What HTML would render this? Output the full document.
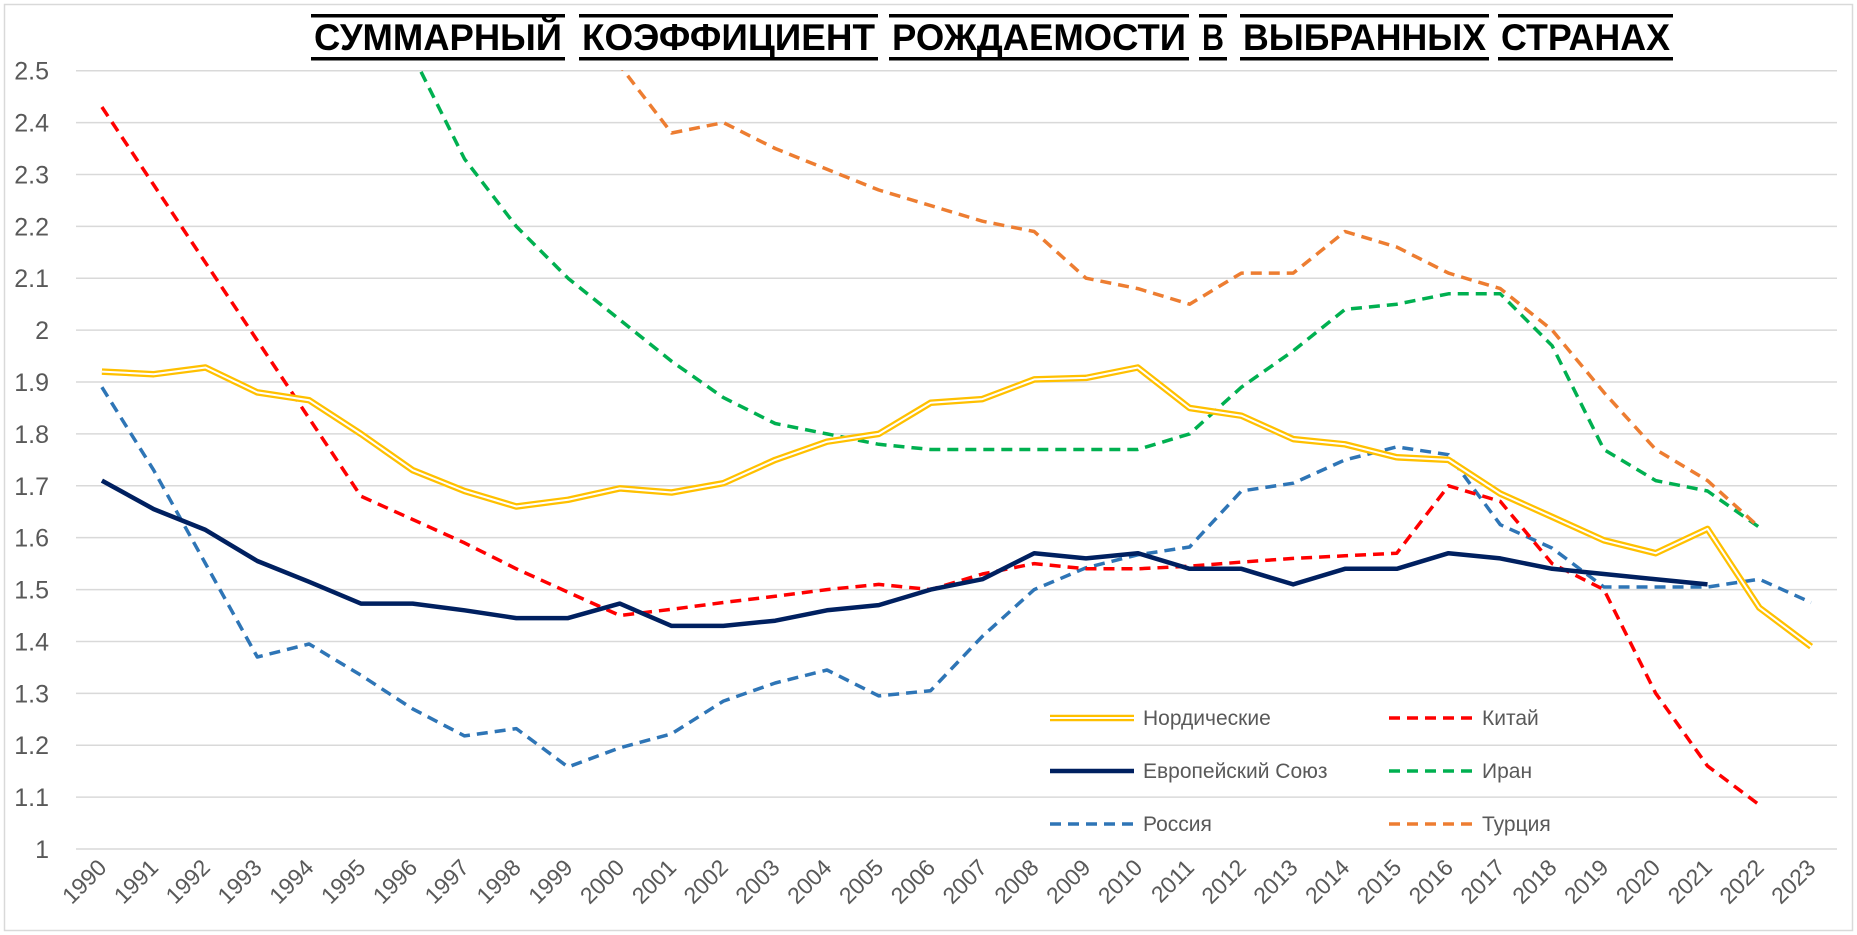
<!DOCTYPE html>
<html><head><meta charset="utf-8"><style>
html,body{margin:0;padding:0;background:#fff;}
svg{display:block;}
</style></head><body>
<svg id="c" width="1857" height="935" xmlns="http://www.w3.org/2000/svg" font-family="Liberation Sans, sans-serif">
<rect x="4.5" y="4.5" width="1848" height="926" fill="#fff" stroke="#d9d9d9" stroke-width="1.5"/>
<g id="grid"></g>
<g id="title" font-family="Liberation Sans Narrow, Liberation Sans, sans-serif" font-weight="bold" font-size="37" fill="#000"></g>
<clipPath id="cp"><rect x="76" y="70" width="1762" height="800"/></clipPath>
<g id="series" clip-path="url(#cp)" fill="none" stroke-linejoin="round"></g>
<g id="legend" font-size="21" fill="#595959"></g>
</svg>
<script>
const NS="http://www.w3.org/2000/svg";
function el(p,t,a,txt){const e=document.createElementNS(NS,t);for(const k in a)e.setAttribute(k,a[k]);if(txt!==undefined)e.textContent=txt;p.appendChild(e);return e;}
const X0=76,X1=1837,step=(X1-X0)/34;
const yv=v=>849-(v-1)*(849-70.7)/1.5;
const xv=i=>X0+step*(i+0.5);
const g=document.getElementById('grid');
for(let k=0;k<=15;k++){const v=1+k*0.1;const y=yv(v);
 el(g,'line',{x1:X0,x2:X1,y1:y,y2:y,stroke:'#d9d9d9','stroke-width':1.5});
 let lab=(Math.round(v*10)/10).toString();
 el(g,'text',{x:49,y:y+9,'text-anchor':'end','font-size':25,fill:'#595959'},lab);}
for(let i=0;i<34;i++){const x=xv(i)+6,y=869;
 el(g,'text',{x:x,y:y,'text-anchor':'end','font-size':23,fill:'#595959',transform:`rotate(-45 ${x} ${y})`},1990+i);}
const T=document.getElementById('title');
[["СУММАРНЫЙ",312,564],["КОЭФФИЦИЕНТ",580,877],["РОЖДАЕМОСТИ",890,1188],["В",1200,1226],["ВЫБРАННЫХ",1241,1488],["СТРАНАХ",1499,1672]].forEach(([w,a,b])=>{
 el(T,'rect',{x:a-1,y:14,width:b-a+2,height:3.5});
 el(T,'rect',{x:a-1,y:57,width:b-a+2,height:3.5});
 el(T,'text',{x:a+2,y:50,textLength:b-a-4,lengthAdjust:'spacingAndGlyphs'},w);});
const S=document.getElementById('series');
function path(vals,start){let d='';vals.forEach((v,j)=>{if(v==null)return;d+=(d?'L':'M')+xv(start+j).toFixed(1)+','+yv(v).toFixed(1);});return d;}
const nord=[1.92,1.915,1.928,1.88,1.865,1.8,1.73,1.69,1.66,1.673,1.695,1.687,1.705,1.75,1.785,1.8,1.86,1.867,1.905,1.908,1.928,1.85,1.835,1.79,1.78,1.755,1.75,1.685,1.64,1.595,1.57,1.617,1.465,1.39];
const eu=[1.71,1.655,1.615,1.555,1.515,1.473,1.473,1.46,1.445,1.445,1.473,1.43,1.43,1.44,1.46,1.47,1.5,1.52,1.57,1.56,1.57,1.54,1.54,1.51,1.54,1.54,1.57,1.56,1.54,1.53,1.52,1.51];
const ru=[1.89,1.73,1.55,1.37,1.395,1.335,1.27,1.218,1.232,1.158,1.195,1.222,1.285,1.32,1.345,1.295,1.305,1.41,1.5,1.542,1.567,1.582,1.69,1.705,1.75,1.775,1.76,1.625,1.58,1.505,1.505,1.505,1.52,1.475];
const cn=[2.43,2.28,2.13,1.98,1.83,1.68,1.635,1.59,1.54,1.495,1.45,1.462,1.475,1.487,1.5,1.51,1.5,1.53,1.55,1.54,1.54,1.545,1.553,1.56,1.565,1.57,1.7,1.67,1.55,1.5,1.3,1.16,1.085];
const ir=[null,null,null,null,null,2.75,2.53,2.33,2.2,2.1,2.02,1.94,1.87,1.82,1.8,1.78,1.77,1.77,1.77,1.77,1.77,1.8,1.89,1.96,2.04,2.05,2.07,2.07,1.97,1.77,1.71,1.69,1.62];
const tr=[null,null,null,null,null,null,null,null,null,2.62,2.51,2.38,2.4,2.35,2.31,2.27,2.24,2.21,2.19,2.1,2.08,2.05,2.11,2.11,2.19,2.16,2.11,2.08,2.0,1.88,1.77,1.71,1.62];
const dash='11 7';
el(S,'path',{d:path(ru,0),stroke:'#2E75B6','stroke-width':3.5,'stroke-dasharray':dash});
el(S,'path',{d:path(cn,0),stroke:'#FF0000','stroke-width':3.5,'stroke-dasharray':dash});
el(S,'path',{d:path(ir,0),stroke:'#00B050','stroke-width':3.5,'stroke-dasharray':dash});
el(S,'path',{d:path(tr,0),stroke:'#ED7D31','stroke-width':3.5,'stroke-dasharray':dash});
el(S,'path',{d:path(nord,0),stroke:'#FFC000','stroke-width':6.5});
el(S,'path',{d:path(nord,0),stroke:'#fff','stroke-width':2});
el(S,'path',{d:path(eu,0),stroke:'#002060','stroke-width':4.5});
const L=document.getElementById('legend');
function leg(x,y,col,type,txt){
 if(type==='dbl'){el(L,'line',{x1:x,x2:x+84,y1:y,y2:y,stroke:col,'stroke-width':6.5});el(L,'line',{x1:x,x2:x+84,y1:y,y2:y,stroke:'#fff','stroke-width':2});}
 else if(type==='solid')el(L,'line',{x1:x,x2:x+84,y1:y,y2:y,stroke:col,'stroke-width':4.5});
 else el(L,'line',{x1:x,x2:x+84,y1:y,y2:y,stroke:col,'stroke-width':3.5,'stroke-dasharray':dash});
 el(L,'text',{x:x+93,y:y+7},txt);}
leg(1050,718,'#FFC000','dbl','Нордические');
leg(1050,771,'#002060','solid','Европейский Союз');
leg(1050,824,'#2E75B6','dash','Россия');
leg(1389,718,'#FF0000','dash','Китай');
leg(1389,771,'#00B050','dash','Иран');
leg(1389,824,'#ED7D31','dash','Турция');
</script>
</body></html>
